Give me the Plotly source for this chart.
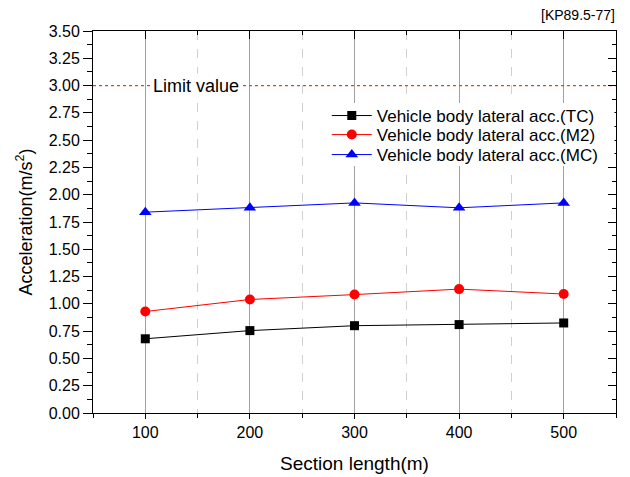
import plotly.graph_objects as go

section_length = [100, 200, 300, 400, 500]
acc_tc = [0.68, 0.755, 0.80, 0.81, 0.825]
acc_m2 = [0.93, 1.04, 1.085, 1.135, 1.09]
acc_mc = [1.84, 1.88, 1.925, 1.88, 1.925]
limit_value = 3.0
names = ["Vehicle body lateral acc.(TC)", "Vehicle body lateral acc.(M2)", "Vehicle body lateral acc.(MC)"]

font = "Liberation Sans, Arial, sans-serif"
fig = go.Figure()
fig.add_trace(go.Scatter(x=section_length, y=acc_tc, name=names[0], mode="lines+markers",
                         line=dict(color="black", width=1), legend="legend",
                         marker=dict(symbol="square", size=9, color="black")))
fig.add_trace(go.Scatter(x=section_length, y=acc_m2, name=names[1], mode="lines+markers",
                         line=dict(color="red", width=1), legend="legend2",
                         marker=dict(symbol="circle", size=10, color="red")))
fig.add_trace(go.Scatter(x=section_length, y=acc_mc, name=names[2], mode="lines+markers",
                         line=dict(color="blue", width=1), legend="legend3",
                         marker=dict(symbol="triangle-up", size=11, color="blue")))

# limit value line as a data trace across the x range
fig.add_trace(go.Scatter(x=[50, 550], y=[limit_value, limit_value], mode="lines",
                         line=dict(color="#ff3030", width=1.3, dash="3px,3px"),
                         showlegend=False, hoverinfo="skip"))
# white backdrop behind the legend rows (hides grid lines as in the reference)
fig.add_shape(type="rect", xref="paper", yref="paper", x0=0.449, x1=0.997, y0=0.6466, y1=0.8115,
              fillcolor="white", line=dict(width=0), layer="above")
fig.add_annotation(x=148, y=limit_value, text="Limit value", showarrow=False,
                   font=dict(family=font, size=18, color="black"), bgcolor="white",
                   xanchor="center", yanchor="middle", borderpad=2)
fig.add_annotation(xref="paper", yref="paper", x=1.002, y=1.015, text="[KP89.5-77]",
                   showarrow=False, font=dict(family=font, size=14, color="black"),
                   xanchor="right", yanchor="bottom")

leg = dict(xanchor="left", yanchor="middle", bgcolor="rgba(0,0,0,0)",
           font=dict(family=font, size=17), itemwidth=40)
fig.update_layout(
    width=622, height=469,
    margin=dict(l=85, r=14, t=23, b=64),
    paper_bgcolor="white", plot_bgcolor="white",
    font=dict(family=font, size=16, color="black"),
    showlegend=True,
    legend=dict(x=0.447, y=0.7775, **leg),
    legend2=dict(x=0.447, y=0.7277, **leg),
    legend3=dict(x=0.447, y=0.6754, **leg),
    xaxis=dict(range=[50, 550], tickvals=section_length, showline=True, linecolor="black",
               linewidth=1, ticks="outside", ticklen=5, tickcolor="black",
               showgrid=True, gridcolor="#a0a0a0", gridwidth=1, zeroline=False, automargin=False,
               minor=dict(dtick=50, tick0=50, ticks="outside", ticklen=4, tickcolor="black",
                          showgrid=True, gridcolor="#d0d0d0", griddash="dash"),
               title=dict(text="Section length(m)", font=dict(size=19), standoff=16),
               tickfont=dict(size=16)),
    xaxis2=dict(range=[50, 550], overlaying="x", side="top", tickvals=section_length,
                showticklabels=False, showline=True, linecolor="black", linewidth=1,
                ticks="inside", ticklen=8, tickcolor="black", showgrid=False, zeroline=False,
                automargin=False,
                minor=dict(dtick=50, tick0=50, ticks="inside", ticklen=4, tickcolor="black",
                           showgrid=False)),
    yaxis=dict(range=[0, 3.5], dtick=0.25, tickformat=".2f", showline=True, linecolor="black",
               linewidth=1, ticks="outside", ticklen=9, tickcolor="black",
               showgrid=False, zeroline=False, automargin=False,
               minor=dict(dtick=0.125, ticks="outside", ticklen=5, tickcolor="black"),
               title=dict(text="Acceleration(m/s<sup>2</sup>)", font=dict(size=18), standoff=11),
               tickfont=dict(size=16)),
    yaxis2=dict(range=[0, 3.5], overlaying="y", side="right", dtick=0.25,
                showticklabels=False, showline=True, linecolor="black", linewidth=1,
                ticks="inside", ticklen=8, tickcolor="black", showgrid=False, zeroline=False,
                automargin=False,
                minor=dict(dtick=0.125, ticks="inside", ticklen=4, tickcolor="black")),
)
# invisible anchor trace so the mirror axes are drawn
fig.add_trace(go.Scatter(x=[None], y=[None], xaxis="x2", yaxis="y2", showlegend=False,
                         hoverinfo="skip"))
fig.write_html("out.html")
